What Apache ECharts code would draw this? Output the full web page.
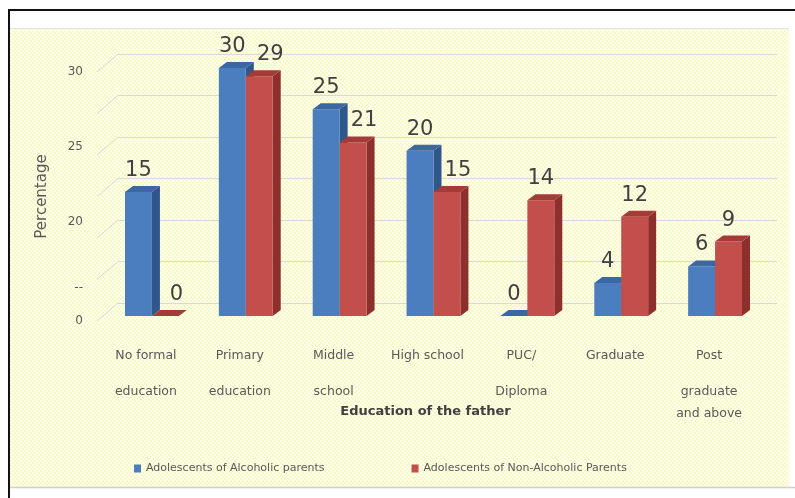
<!DOCTYPE html>
<html>
<head>
<meta charset="utf-8">
<script src="https://cdn.jsdelivr.net/npm/echarts@6/dist/echarts.min.js"></script>
<style>
  html, body { margin: 0; padding: 0; background: #ffffff; }
  #chart { width: 795px; height: 498px; }
</style>
</head>
<body>
<div id="chart"></div>
<script>
// Education of the father, % of adolescents in each group
const categories = ['No formal\neducation', 'Primary\neducation', 'Middle\nschool', 'High school', 'PUC/\nDiploma', 'Graduate', 'Post\ngraduate\nand above'];
const alcoholicParents = [15, 30, 25, 20, 0, 4, 6];
const nonAlcoholicParents = [0, 29, 21, 15, 14, 12, 9];
const seriesNames = ['Adolescents of Alcoholic parents', 'Adolescents of Non-Alcoholic Parents'];

// back-wall gridline levels and the labels printed on the value axis
const gridValues = [0, 5, 10, 15, 20, 25, 30];
const yTickValues = [0, 4, 12, 21, 30];
const yTickLabels = ['0', '--', '20', '25', '30'];

const FONT = 'DejaVu Sans';
const BAR_RATIO = 0.287;   // each bar's share of the category band
const DX = 8, DY = 6;      // bar depth offset
const WALL_DX = 21, WALL_DY = 18;  // side-wall depth offset

const faces = [
  { front: '#4a7ebe', side: '#30568c', top: '#3b67a3' },
  { front: '#c24f4b', side: '#8c2f2d', top: '#a33c39' }
];

// light yellow dotted backdrop
const tile = document.createElement('canvas');
tile.width = 4; tile.height = 4;
(function () {
  const g = tile.getContext('2d');
  g.fillStyle = '#f9f9c6';
  g.fillRect(0, 0, 4, 4);
  g.fillStyle = '#fefef0';
  g.fillRect(0, 0, 2, 2);
  g.fillRect(2, 2, 2, 2);
})();

function barRenderer(seriesIndex) {
  const f = faces[seriesIndex];
  return function (params, api) {
    const idx = api.value(0);
    const val = api.value(1);
    const base = api.coord([idx, 0]);
    const top = api.coord([idx, val]);
    const band = api.size([1, 0])[0];
    const w = band * BAR_RATIO;
    const x0 = seriesIndex === 0 ? base[0] - w : base[0];
    const x1 = x0 + w;
    const yb = base[1], yt = top[1];
    // red labels step aside when the neighbouring blue bar is taller
    const shift = (seriesIndex === 1 && alcoholicParents[idx] > nonAlcoholicParents[idx]) ? 11 : 0;
    return {
      type: 'group',
      children: [
        { type: 'polygon', shape: { points: [[x1, yt], [x1 + DX, yt - DY], [x1 + DX, yb - DY], [x1, yb]] }, style: { fill: f.side } },
        { type: 'rect', shape: { x: x0, y: yt, width: w, height: yb - yt }, style: { fill: f.front } },
        { type: 'polygon', shape: { points: [[x0, yt], [x0 + DX, yt - DY], [x1 + DX, yt - DY], [x1, yt]] }, style: { fill: f.top } },
        { type: 'text', style: { text: String(val), x: (x0 + x1) / 2 + shift, y: yt - 11, align: 'center', verticalAlign: 'bottom', fontSize: 21, fontFamily: FONT, fill: '#404040' } }
      ]
    };
  };
}

function wallRenderer(params, api) {
  const p = api.coord([0, api.value(1)]);
  return {
    type: 'line',
    shape: { x1: p[0] - WALL_DX, y1: p[1] + WALL_DY, x2: p[0], y2: p[1] },
    style: { stroke: '#d9d9d9', lineWidth: 1 }
  };
}

const chart = echarts.init(document.getElementById('chart'), null, { renderer: 'canvas' });

chart.setOption({
  backgroundColor: '#ffffff',
  animation: false,
  graphic: [
    { type: 'rect', z: -10, silent: true, shape: { x: 10, y: 28, width: 779, height: 459 }, style: { fill: { image: tile, repeat: 'repeat' } } },
    { type: 'line', z: -9, silent: true, shape: { x1: 10, y1: 28.5, x2: 789, y2: 28.5 }, style: { stroke: '#e2e2e2', lineWidth: 1 } },
    { type: 'line', z: -9, silent: true, shape: { x1: 9, y1: 487.5, x2: 795, y2: 487.5 }, style: { stroke: '#cfcfcf', lineWidth: 1.5 } },
    { type: 'line', z: 10, silent: true, shape: { x1: 8, y1: 10, x2: 795, y2: 10 }, style: { stroke: '#111111', lineWidth: 2 } },
    { type: 'line', z: 10, silent: true, shape: { x1: 9, y1: 9, x2: 9, y2: 498 }, style: { stroke: '#111111', lineWidth: 2 } }
  ],
  legend: {
    data: seriesNames,
    left: 129,
    top: 458,
    icon: 'rect',
    itemWidth: 7,
    itemHeight: 8,
    itemGap: 87,
    textStyle: { fontFamily: FONT, fontSize: 11, color: '#595959' }
  },
  grid: [
    { left: 105, right: 33, top: 68, bottom: 182 },   // bars
    { left: 118, right: 18, top: 54, bottom: 195 },   // back wall
    { left: 97, right: 100, top: 72, bottom: 177 }    // front value scale
  ],
  xAxis: [
    {
      type: 'category', gridIndex: 0, data: categories,
      axisLine: { show: false }, axisTick: { show: false },
      axisLabel: {
        margin: 15, interval: 0,
        padding: [0, 12, 0, 0],
        formatter: function (v) {
          return v.split('\n').map(function (l, i) { return (i === 0 ? '{a|' : '{b|') + l + '}'; }).join('\n');
        },
        rich: {
          a: { fontFamily: FONT, fontSize: 12.5, color: '#595959', lineHeight: 50 },
          b: { fontFamily: FONT, fontSize: 12.5, color: '#595959', lineHeight: 22 }
        }
      },
      name: 'Education of the father', nameLocation: 'middle', nameGap: 89, nameMoveOverlap: false,
      nameTextStyle: { fontFamily: FONT, fontSize: 13, fontWeight: 'bold', color: '#404040', padding: [0, 16, 0, 0] }
    },
    { type: 'value', gridIndex: 1, min: 0, max: 1, show: false },
    { type: 'value', gridIndex: 2, min: 0, max: 1, show: false }
  ],
  yAxis: [
    { type: 'value', gridIndex: 0, min: 0, max: 30, show: false },
    {
      type: 'value', gridIndex: 1, min: 0, max: 30, interval: 5,
      axisLine: { show: false }, axisTick: { show: false }, axisLabel: { show: false },
      splitLine: { show: true, lineStyle: { color: '#d9d9d9', width: 1 } }
    },
    {
      type: 'value', gridIndex: 2, min: 0, max: 30, interval: 1,
      axisLine: { show: false }, axisTick: { show: false }, splitLine: { show: false },
      axisLabel: {
        margin: 14, fontFamily: FONT, fontSize: 12, color: '#595959',
        formatter: function (v) {
          const k = yTickValues.indexOf(v);
          return k < 0 ? '' : yTickLabels[k];
        }
      },
      name: 'Percentage', nameLocation: 'middle', nameGap: 47, nameRotate: 90, nameMoveOverlap: false,
      nameTextStyle: { fontFamily: FONT, fontSize: 15, color: '#595959' }
    }
  ],
  series: [
    {
      type: 'custom', name: 'wall', xAxisIndex: 1, yAxisIndex: 1, silent: true, z: 1,
      data: gridValues.map(function (v) { return [0, v]; }),
      renderItem: wallRenderer
    },
    {
      type: 'custom', name: seriesNames[0], xAxisIndex: 0, yAxisIndex: 0, z: 3,
      itemStyle: { color: faces[0].front },
      encode: { x: 0, y: 1 },
      data: alcoholicParents.map(function (v, i) { return [i, v]; }),
      renderItem: barRenderer(0)
    },
    {
      type: 'custom', name: seriesNames[1], xAxisIndex: 0, yAxisIndex: 0, z: 4,
      itemStyle: { color: faces[1].front },
      encode: { x: 0, y: 1 },
      data: nonAlcoholicParents.map(function (v, i) { return [i, v]; }),
      renderItem: barRenderer(1)
    }
  ]
});
</script>
</body>
</html>
